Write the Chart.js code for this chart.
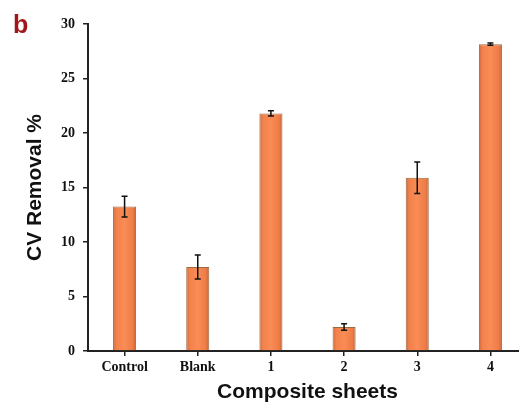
<!DOCTYPE html>
<html>
<head>
<meta charset="utf-8">
<script src="https://cdn.jsdelivr.net/npm/chart.js@4/dist/chart.umd.min.js"></script>
<style>
    html, body { margin: 0; padding: 0; background: #fff; overflow: hidden; }
    #wrap { position: relative; width: 519px; height: 405px; overflow: hidden; }
    #panel { position: absolute; left: 13px; top: 10px; font: bold 25px "Liberation Sans", Arial, sans-serif; color: #a3151a; }
    canvas { display: block; }
</style>
</head>
<body>
<div id="wrap">
    <canvas id="chart" width="530" height="405"></canvas>
    <div id="panel">b</div>
</div>
<script>
const categories = ['Control', 'Blank', '1', '2', '3', '4'];
const removal = [13.25, 7.7, 21.8, 2.2, 15.9, 28.15];
const errors = [0.95, 1.1, 0.25, 0.3, 1.45, 0.1];
const yTicks = [0, 5, 10, 15, 20, 25, 30];

// error bars drawn on top of the bars
const errorBars = {
    id: 'errorBars',
    afterDatasetsDraw(chart) {
        const ctx = chart.ctx;
        const y = chart.scales.y;
        const meta = chart.getDatasetMeta(0);
        ctx.save();
        ctx.strokeStyle = '#111';
        ctx.lineWidth = 1.5;
        meta.data.forEach((bar, i) => {
            const top = y.getPixelForValue(removal[i] + errors[i]);
            const bottom = y.getPixelForValue(removal[i] - errors[i]);
            ctx.beginPath();
            ctx.moveTo(bar.x, top);
            ctx.lineTo(bar.x, bottom);
            ctx.moveTo(bar.x - 3, top);
            ctx.lineTo(bar.x + 3, top);
            ctx.moveTo(bar.x - 3, bottom);
            ctx.lineTo(bar.x + 3, bottom);
            ctx.stroke();
        });
        ctx.restore();
    }
};

function barFill(context) {
    const chart = context.chart;
    const bar = chart.getDatasetMeta(0).data[context.dataIndex];
    if (!bar || bar.x === undefined || !bar.width) return '#f4874f';
    const g = chart.ctx.createLinearGradient(bar.x - bar.width / 2, 0, bar.x + bar.width / 2, 0);
    g.addColorStop(0, '#c9673a');
    g.addColorStop(0.15, '#f3814b');
    g.addColorStop(0.5, '#fa8c56');
    g.addColorStop(0.85, '#ee7c47');
    g.addColorStop(1, '#c4643a');
    return g;
}

const tickFont = { family: '"Liberation Serif", "Times New Roman", serif', size: 14, weight: 'bold' };
const titleFont = { family: '"Liberation Sans", Arial, sans-serif', size: 21, weight: 'bold' };

const chart = new Chart(document.getElementById('chart'), {
    type: 'bar',
    data: {
        labels: categories,
        datasets: [{
            data: removal,
            backgroundColor: barFill,
            borderColor: '#9a6a40',
            borderWidth: 1,
            barPercentage: 0.63,
            categoryPercentage: 0.5
        }]
    },
    options: {
        responsive: false,
        animation: false,
        layout: { padding: { left: 0, right: 3, top: 24, bottom: 0 } },
        plugins: { legend: { display: false }, tooltip: { enabled: false } },
        scales: {
            x: {
                grid: { drawOnChartArea: false, offset: false, tickLength: 5, color: '#222', lineWidth: 1.5 },
                border: { color: '#222', width: 2 },
                ticks: { color: '#111', font: tickFont, padding: 3 },
                title: { display: true, text: 'Composite sheets', color: '#111', font: titleFont, padding: { top: 0, bottom: 0 } },
                afterFit(scale) { scale.height = 54; }
            },
            y: {
                min: 0,
                max: 30,
                afterBuildTicks(scale) { scale.ticks = yTicks.map(v => ({ value: v })); },
                grid: { drawOnChartArea: false, tickLength: 5, color: '#222', lineWidth: 1.5 },
                border: { color: '#222', width: 2 },
                ticks: { color: '#111', font: tickFont, padding: 8 },
                title: { display: true, text: 'CV Removal %', color: '#111', font: titleFont, padding: { top: 23, bottom: 0 } },
                afterFit(scale) { scale.width = 88; }
            }
        }
    },
    plugins: [errorBars]
});
chart.update();
</script>
</body>
</html>
